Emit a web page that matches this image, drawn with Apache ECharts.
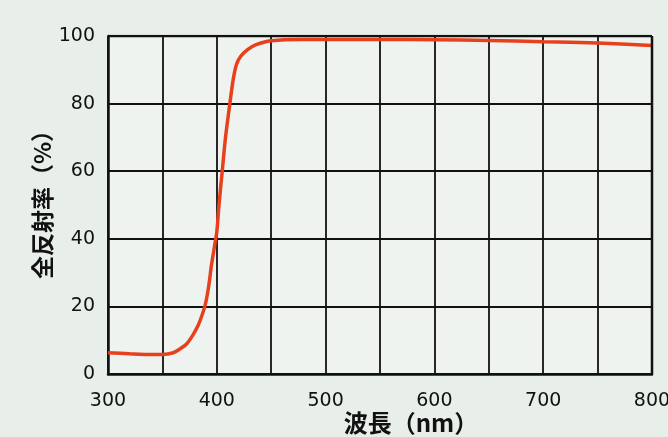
<!DOCTYPE html>
<html>
<head>
<meta charset="utf-8">
<script src="https://cdn.jsdelivr.net/npm/echarts@6/dist/echarts.min.js"></script>
<style>
html,body{margin:0;padding:0;background:#e8eee9;}
#c{width:668px;height:437px;}
</style>
</head>
<body>
<div id="c"></div>
<script>
var wavelengths = [300, 320, 340, 350, 360, 366, 372, 378, 383, 386, 389, 391, 393, 395, 398, 400, 402, 405, 408, 412, 415, 418, 422, 428, 435, 450, 480, 500, 550, 600, 650, 700, 750, 800];
var reflectance = [6.3, 6.0, 5.8, 5.8, 6.3, 7.4, 8.8, 11.5, 14.5, 17, 20, 23, 27, 32, 38, 42, 50, 60, 70, 80, 87, 91.5, 94, 95.9, 97.3, 98.6, 99, 99, 99, 98.9, 98.7, 98.3, 97.9, 97.2];
var xTicks = [300, 400, 500, 600, 700, 800];
var yTicks = [0, 20, 40, 60, 80, 100];

var data = wavelengths.map(function (w, i) { return [w, reflectance[i]]; });
var titleFont = '"Noto Sans CJK JP", "Noto Sans", sans-serif';
var tickFont = '"DejaVu Sans", sans-serif';

var chart = echarts.init(document.getElementById('c'));
chart.setOption({
  backgroundColor: '#e8eee9',
  animation: false,
  grid: { left: 108, right: 16, top: 36, bottom: 63, outerBoundsMode: 'none', containLabel: false,
          backgroundColor: '#eef3f0', show: true, borderWidth: 0 },
  xAxis: {
    type: 'value', min: 300, max: 800, interval: 50,
    name: '波長（nm）', nameLocation: 'middle', nameGap: 37, nameMoveOverlap: false,
    nameTextStyle: { fontFamily: titleFont, fontSize: 24, fontWeight: 'bold', color: '#111', padding: [0, 0, 0, 62] },
    axisLine: { show: true, lineStyle: { color: '#111', width: 2.5 } },
    axisTick: { show: false },
    axisLabel: {
      fontFamily: tickFont, fontSize: 19, color: '#111', margin: 18,
      formatter: function (v) { return xTicks.indexOf(v) >= 0 ? String(v) : ''; }
    },
    splitLine: { show: true, lineStyle: { color: '#111', width: 1.8 } }
  },
  yAxis: {
    type: 'value', min: 0, max: 100, interval: 20,
    name: '全反射率（%）', nameLocation: 'middle', nameGap: 54, nameRotate: 90, nameMoveOverlap: false,
    nameTextStyle: { fontFamily: titleFont, fontSize: 23, fontWeight: 'bold', color: '#111', padding: [0, 0, 0, 12] },
    axisLine: { show: true, lineStyle: { color: '#111', width: 2.5 } },
    axisTick: { show: false },
    axisLabel: {
      fontFamily: tickFont, fontSize: 19, color: '#111', margin: 13,
      formatter: function (v) { return yTicks.indexOf(v) >= 0 ? String(v) : ''; }
    },
    splitLine: { show: true, lineStyle: { color: '#111', width: 1.8 } }
  },
  series: [{
    type: 'line', data: data, smooth: 0.3, showSymbol: false,
    lineStyle: { color: '#e8401c', width: 3.5 }
  }, {
    type: 'line', data: [[800, 0], [800, 100]], showSymbol: false, silent: true,
    lineStyle: { color: '#111', width: 2.5 }
  }, {
    type: 'line', data: [[300, 100], [800, 100]], showSymbol: false, silent: true,
    lineStyle: { color: '#111', width: 2.5 }, z: 1
  }]
});
</script>
</body>
</html>
